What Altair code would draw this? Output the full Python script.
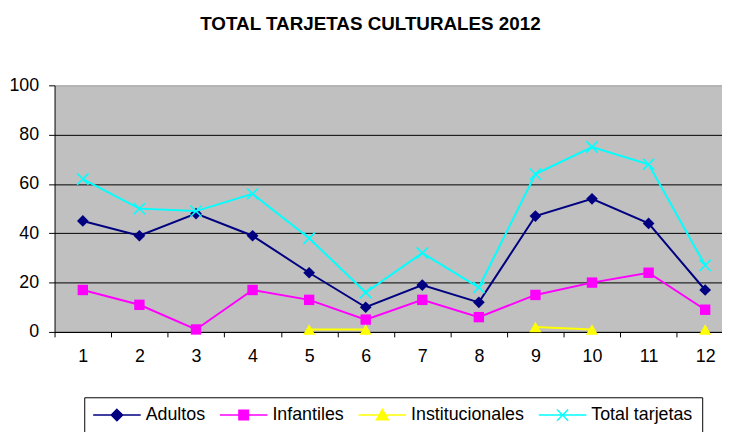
import altair as alt
import pandas as pd

FONT = "Liberation Sans, Arial, sans-serif"

meses = list(range(1, 13))
series = ["Adultos", "Infantiles", "Institucionales", "Total tarjetas"]
adultos = [45, 39, 48, 39, 24, 10, 19, 12, 47, 54, 44, 17]
infantiles = [17, 11, 1, 17, 13, 5, 13, 6, 15, 20, 24, 9]
institucionales = [None, None, None, None, 1, 1, None, None, 2, 1, None, 1]
total = [62, 50, 49, 56, 38, 16, 32, 18, 64, 75, 68, 27]
y_ticks = [0, 20, 40, 60, 80, 100]

colores = ["#000080", "#FF00FF", "#FFFF00", "#00FFFF"]

rows = []
for name, vals in zip(series, [adultos, infantiles, institucionales, total]):
    seg = 0
    for m, v in zip(meses, vals):
        if v is None:
            seg += 1
            continue
        rows.append({"mes": m, "valor": v, "serie": name, "tramo": f"{name}-{seg}"})
df = pd.DataFrame(rows)

band_px = 674 / 11.7976
x_scale = alt.Scale(domain=[0.5, 12.2976], nice=False, zero=False)
y_scale = alt.Scale(domain=[0, 100], nice=False, zero=True)

x_axis = alt.Axis(
    values=[0.5 + i for i in range(12)],
    labelExpr="format(datum.value + 0.5, 'd')",
    labelOffset=band_px / 2,
    labelFlush=False,
    labelOverlap=False,
    title=None,
    grid=False,
    tickSize=5,
    tickColor="black",
    domainColor="black",
    labelFontSize=18,
    labelFont=FONT,
    labelColor="black",
    labelPadding=11,
)
y_axis = alt.Axis(
    values=y_ticks,
    title=None,
    grid=True,
    gridColor={"condition": {"test": "datum.value == 100", "value": "#999999"}, "value": "#000000"},
    gridWidth=1,
    tickSize=6,
    tickColor="black",
    domainColor="black",
    labelFontSize=18,
    labelFont=FONT,
    labelColor="black",
    labelPadding=10,
    labelFlush=False,
)

X = alt.X("mes:Q", scale=x_scale, axis=x_axis)
Y = alt.Y("valor:Q", scale=y_scale, axis=y_axis)

point_styles = [
    dict(shape="diamond", filled=True, size=140),
    dict(shape="square", filled=True, size=110),
    dict(shape="triangle-up", filled=True, size=150),
    dict(shape="M-1,-1L1,1M-1,1L1,-1", filled=False, size=130, strokeWidth=1.6),
]

layers = []
for name, col, ps in zip(series, colores, point_styles):
    base = alt.Chart(df).transform_filter(alt.datum.serie == name)
    layers.append(base.mark_line(color=col, strokeWidth=2).encode(x=X, y=Y, detail="tramo:N"))
    layers.append(base.mark_point(color=col, opacity=1, **ps).encode(x=X, y=Y))

# legend symbols: a line with the series marker, unit = 8px
leg_paths = [
    "M-3,0L3,0M0,-0.72L0.72,0L0,0.72L-0.72,0Z",
    "M-3,0L3,0M-0.6,-0.6L0.6,-0.6L0.6,0.6L-0.6,0.6Z",
    "M-3,0L3,0M0,-0.72L0.75,0.6L-0.75,0.6Z",
    "M-3,0L3,0M-0.7,-0.7L0.7,0.7M-0.7,0.7L0.7,-0.7",
]
leg_df = pd.DataFrame({"serie": series})
leg_color = alt.Scale(domain=series, range=colores)
legend_layer = (
    alt.Chart(leg_df)
    .transform_filter("false")
    .mark_point(filled=True, opacity=1, size=256, strokeWidth=1.5)
    .encode(
        fill=alt.Fill("serie:N", scale=leg_color, title=None),
        stroke=alt.Stroke("serie:N", scale=leg_color, title=None),
        shape=alt.Shape("serie:N", scale=alt.Scale(domain=series, range=leg_paths), title=None),
    )
)
layers.append(legend_layer)

chart = (
    alt.layer(*layers)
    .properties(
        width=674,
        height=249,
        background="white",
        view=alt.ViewBackground(fill="#C0C0C0", stroke="transparent"),
        padding={"left": 0, "top": 5, "right": 0, "bottom": 0},
        title=alt.Title(
            "TOTAL TARJETAS CULTURALES 2012",
            fontSize=19,
            fontWeight="bold",
            font=FONT,
            color="black",
            anchor="middle",
            frame="group",
            dx=-18,
            offset=43,
        ),
    )
    .configure_view(fill="#C0C0C0", stroke="transparent")
    .configure_legend(
        orient="none",
        legendX=30,
        legendY=315,
        direction="horizontal",
        symbolSize=256,
        symbolStrokeWidth=1.5,
        symbolOpacity=1,
        symbolOffset=15,
        labelFont=FONT,
        labelFontSize=18,
        labelColor="black",
        labelOffset=20,
        columnPadding=11,
        padding=9,
        strokeColor="black",
        fillColor="white",
        cornerRadius=0,
    )
)

chart.save("out.html", embed_options={"renderer": "svg", "actions": False})
